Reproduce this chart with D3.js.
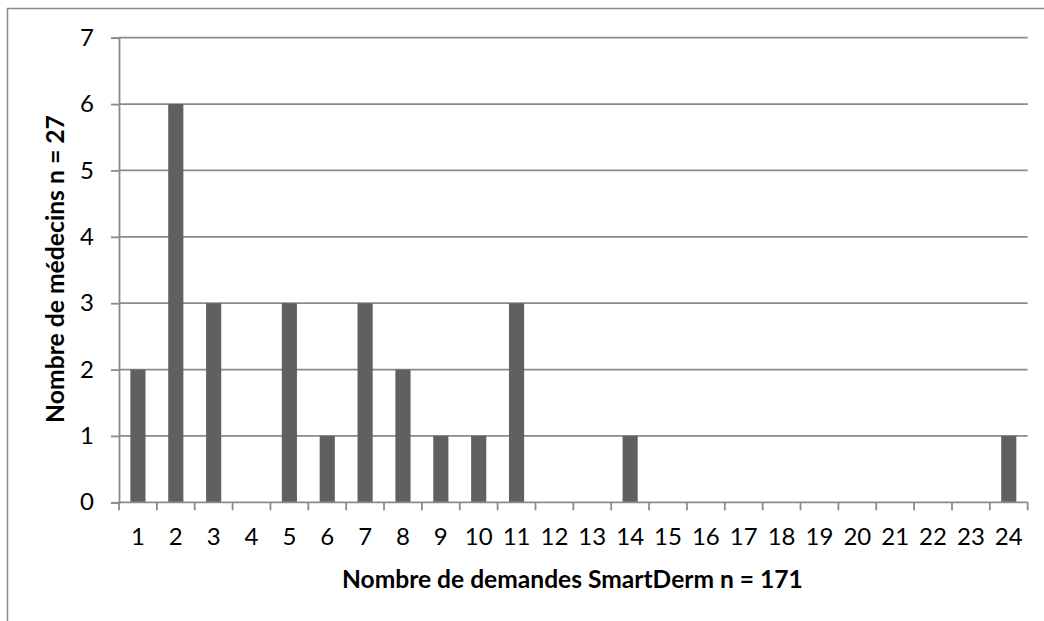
<!DOCTYPE html>
<html><head><meta charset="utf-8">
<script src="https://cdn.jsdelivr.net/npm/d3@7"></script>
<style>body{margin:0;background:#fff}svg{display:block}</style>
</head><body><svg id="c" width="1044" height="621"></svg>
<script>
const categories = ["1","2","3","4","5","6","7","8","9","10","11","12","13","14","15","16","17","18","19","20","21","22","23","24"];
const values = [2,6,3,0,3,1,3,2,1,1,3,0,0,1,0,0,0,0,0,0,0,0,0,1];
const yTicks = [0,1,2,3,4,5,6,7];
const xTitle = "Nombre de demandes SmartDerm n = 171";
const yTitle = "Nombre de médecins n = 27";

(function(){
const svg = d3.select("#c");
const font = "Lato, 'Open Sans', sans-serif";
const pLeft = 119, pRight = 1027.7, pTop = 37.7, pBottom = 502.3;
const gridColor = "#8a8a8a";

// outer border (left + top visible)
svg.append("path").attr("d", "M7.5,621V8.5H1044").attr("fill","none").attr("stroke","#8a8a8a").attr("stroke-width",1.5);

const x = d3.scaleBand().domain(categories).range([pLeft, pRight]).paddingInner(0.6).paddingOuter(0.3);
const y = d3.scaleLinear().domain([0,7]).range([pBottom, pTop]);

// gridlines
svg.append("g").selectAll("line").data(yTicks.filter(d=>d>0)).join("line")
  .attr("x1", pLeft).attr("x2", pRight).attr("y1", d=>y(d)).attr("y2", d=>y(d))
  .attr("stroke", gridColor).attr("stroke-width", 1.8);

// bars
svg.append("g").selectAll("rect").data(values).join("rect")
  .attr("x", (d,i)=>x(categories[i])).attr("width", x.bandwidth())
  .attr("y", d=>y(d)).attr("height", d=>y(0)-y(d))
  .attr("fill", "#606060");

// y axis
const yAxis = d3.axisLeft(y).tickValues(yTicks).tickSize(8).tickPadding(17).tickFormat(d3.format("d"));
const gy = svg.append("g").attr("transform", `translate(${pLeft},0)`).call(yAxis);
gy.select(".domain").attr("stroke", gridColor).attr("stroke-width", 1.8);
gy.selectAll(".tick line").attr("stroke", gridColor).attr("stroke-width", 1.8);
gy.selectAll(".tick text").attr("font-family", font).attr("font-size", 24).attr("fill", "#000");

// x axis: line + boundary ticks
const step = x.step();
const bounds = d3.range(categories.length + 1).map(k => pLeft + k * step);
svg.append("line").attr("x1", pLeft).attr("x2", pRight).attr("y1", pBottom).attr("y2", pBottom)
  .attr("stroke", gridColor).attr("stroke-width", 1.8);
svg.append("g").selectAll("line").data(bounds).join("line")
  .attr("x1", d=>d).attr("x2", d=>d).attr("y1", pBottom).attr("y2", pBottom + 8)
  .attr("stroke", gridColor).attr("stroke-width", 1.8);
svg.append("g").selectAll("text").data(categories).join("text")
  .attr("x", d => x(d) + x.bandwidth()/2).attr("y", 545)
  .attr("text-anchor", "middle").attr("font-family", font).attr("font-size", 24).attr("fill","#000")
  .text(d=>d);

// titles
const xt = svg.append("text").attr("x", 572.4).attr("y", 588).attr("text-anchor","middle")
  .attr("font-family", font).attr("font-weight", "bold").attr("font-size", 20).attr("fill","#000").text(xTitle);
const xl = xt.node().getComputedTextLength();
xt.attr("font-size", 20 * 461 / xl);

const yt = svg.append("text").attr("transform", "translate(64,269) rotate(-90)").attr("text-anchor","middle")
  .attr("font-family", font).attr("font-weight", "bold").attr("font-size", 20).attr("fill","#000").text(yTitle);
const yl = yt.node().getComputedTextLength();
yt.attr("font-size", 20 * 308 / yl);
})();
</script></body></html>
